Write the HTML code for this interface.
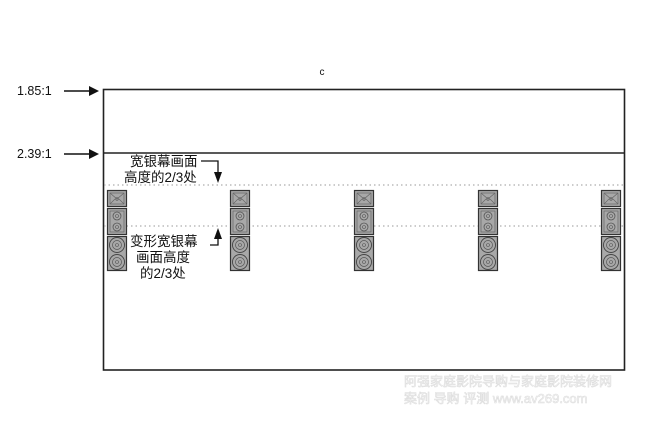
<!DOCTYPE html>
<html><head><meta charset="utf-8"><style>
html,body{margin:0;padding:0;background:#fff;width:650px;height:430px;overflow:hidden}
svg{display:block}
text{font-family:"Liberation Sans","Noto Sans CJK SC",sans-serif;fill:#111}
</style></head><body>
<svg width="650" height="430" viewBox="0 0 650 430" xmlns="http://www.w3.org/2000/svg">
<defs>
<g id="spk">
 <rect x="0.5" y="0.5" width="19" height="16" fill="#a8a8a8" stroke="#333" stroke-width="1.2"/>
 <rect x="3" y="3" width="14" height="11" fill="none" stroke="#666" stroke-width="0.7"/>
 <path d="M3 3 L10 9 L17 3 M3 14 L8 9 M17 14 L12 9" stroke="#666" stroke-width="0.7" fill="none"/>
 <circle cx="10" cy="9" r="1.3" fill="none" stroke="#555" stroke-width="0.6"/>
 <rect x="0.5" y="18.5" width="19" height="26" fill="#a8a8a8" stroke="#333" stroke-width="1.2"/>
 <rect x="3" y="21" width="14" height="21" fill="none" stroke="#666" stroke-width="0.7"/>
 <circle cx="10" cy="26" r="4" fill="none" stroke="#555" stroke-width="0.8"/>
 <circle cx="10" cy="26" r="1.5" fill="none" stroke="#555" stroke-width="0.6"/>
 <circle cx="10" cy="37" r="4" fill="none" stroke="#555" stroke-width="0.8"/>
 <circle cx="10" cy="37" r="1.5" fill="none" stroke="#555" stroke-width="0.6"/>
 <rect x="0.5" y="46.5" width="19" height="34" fill="#a8a8a8" stroke="#333" stroke-width="1.2"/>
 <circle cx="10" cy="55" r="7.5" fill="none" stroke="#444" stroke-width="0.9"/>
 <circle cx="10" cy="55" r="4.5" fill="none" stroke="#555" stroke-width="0.7"/>
 <circle cx="10" cy="55" r="1.5" fill="none" stroke="#555" stroke-width="0.6"/>
 <circle cx="10" cy="72" r="7.5" fill="none" stroke="#444" stroke-width="0.9"/>
 <circle cx="10" cy="72" r="4.5" fill="none" stroke="#555" stroke-width="0.7"/>
 <circle cx="10" cy="72" r="1.5" fill="none" stroke="#555" stroke-width="0.6"/>
</g>
</defs>
<text x="322" y="75" font-size="10" text-anchor="middle">c</text>
<rect x="103.5" y="89.5" width="521" height="280.5" fill="none" stroke="#222" stroke-width="1.6"/>
<line x1="103" y1="153" x2="625" y2="153" stroke="#222" stroke-width="1.6"/>
<line x1="104" y1="185" x2="624" y2="185" stroke="#999" stroke-width="1" stroke-dasharray="1.5,3"/>
<line x1="104" y1="226" x2="624" y2="226" stroke="#999" stroke-width="1" stroke-dasharray="1.5,3"/>
<text x="17" y="95" font-size="12.5">1.85:1</text>
<line x1="64" y1="91" x2="92" y2="91" stroke="#111" stroke-width="1.5"/>
<path d="M89 86 L99 91 L89 96 Z" fill="#111"/>
<text x="17" y="158" font-size="12.5">2.39:1</text>
<line x1="64" y1="154" x2="92" y2="154" stroke="#111" stroke-width="1.5"/>
<path d="M89 149 L99 154 L89 159 Z" fill="#111"/>
<text x="130" y="166" font-size="13.5">宽银幕画面</text>
<text x="124" y="182" font-size="13.5">高度的2/3处</text>
<path d="M201 161 L218 161 L218 174" stroke="#111" stroke-width="1.3" fill="none"/>
<path d="M214 172 L218 183 L222 172 Z" fill="#111"/>
<text x="130" y="246" font-size="13.5">变形宽银幕</text>
<text x="136" y="262" font-size="13.5">画面高度</text>
<text x="140" y="278" font-size="13.5">的2/3处</text>
<path d="M210 245 L218 245 L218 236" stroke="#111" stroke-width="1.3" fill="none"/>
<path d="M214 239 L218 228 L222 239 Z" fill="#111"/>
<use href="#spk" x="107" y="190"/>
<use href="#spk" x="230" y="190"/>
<use href="#spk" x="354" y="190"/>
<use href="#spk" x="478" y="190"/>
<use href="#spk" x="601" y="190"/>
<text x="404" y="386" font-size="13" stroke="#ddd" stroke-width="0.6" style="fill:#fafafa">阿强家庭影院导购与家庭影院装修网</text>
<text x="404" y="403" font-size="13" style="fill:#fafafa" stroke="#ddd" stroke-width="0.6">案例 导购 评测 www.av269.com</text>
</svg>
</body></html>
